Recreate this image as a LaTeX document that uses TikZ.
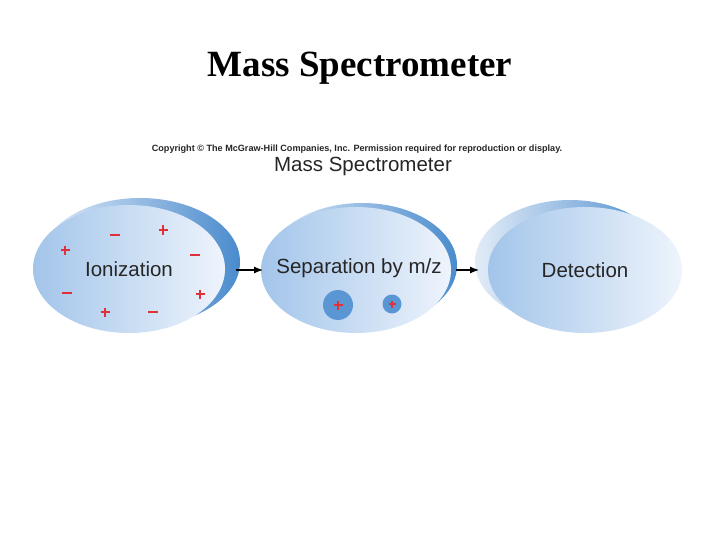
\documentclass[tikz,border=0pt]{standalone}
\usepackage{fontspec}
\setmainfont{Liberation Serif}
\setsansfont{Liberation Sans}
\usetikzlibrary{shapes.geometric,arrows.meta}
\definecolor{frontL}{HTML}{A3C5EA}
\definecolor{frontR}{HTML}{EEF4FC}
\definecolor{backL}{HTML}{E2ECF8}
\definecolor{backR}{HTML}{4A8BCD}
\definecolor{ionblue}{HTML}{5A96D3}
\definecolor{signred}{HTML}{E0303A}
\definecolor{txt}{HTML}{262626}
\tikzset{
  front/.style={ellipse, inner sep=0pt, left color=frontL, right color=frontR, draw=none,
    font=\sffamily\fontsize{20.5}{24}\selectfont, text=txt},
  back/.style={ellipse, inner sep=0pt, left color=backL, right color=backR, draw=none},
  flow/.style={-{Latex[length=9pt,width=7pt]}, line width=1.2pt, black},
  ion/.style={circle, inner sep=0pt, fill=ionblue},
  plus/.pic={\draw[signred, line width=1.8pt] (-4.5,0) -- (4.5,0) (0,-4.5) -- (0,4.5);},
  minus/.pic={\draw[signred, line width=1.8pt] (-5,0) -- (5,0);},
  smallplus/.pic={\draw[signred, line width=1.5pt] (-3.5,0) -- (3.5,0) (0,-3.5) -- (0,3.5);}
}
\begin{document}
\begin{tikzpicture}[x=1pt, y=-1pt]
\useasboundingbox (0,0) rectangle (720,540);
\fill[white] (0,0) rectangle (720,540);

\node[font=\bfseries\fontsize{37}{44}\selectfont] (title) at (360,68) {Mass Spectrometer};
\node[font=\sffamily\bfseries\fontsize{9.1}{10}\selectfont, text=txt] (copy) at (357,149)
  {Copyright © The McGraw-Hill Companies, Inc. Permission required for reproduction or display.};
\node[font=\sffamily\fontsize{20.5}{24}\selectfont, text=txt] (sub) at (363,166) {Mass Spectrometer};

% Ionization
\node[back, minimum width=200pt, minimum height=128pt] (ionback) at (140,262) {};
\node[front, minimum width=192pt, minimum height=128pt] (ioniz) at (129,269) {Ionization};
% Separation
\node[back, minimum width=190pt, minimum height=124pt] (sepback) at (362,265) {};
\node[front, minimum width=190pt, minimum height=126pt] (sep) at (356,270) {};
\node[font=\sffamily\fontsize{20.5}{24}\selectfont, text=txt] (septext) at (359,268) {Separation by m/z};
% Detection
\node[back, minimum width=190pt, minimum height=124pt] (detback) at (570,262) {};
\node[front, minimum width=194pt, minimum height=126pt] (det) at (585,270) {Detection};

% ions in ionization chamber
\pic at (65,250) {plus};
\pic at (115,235) {minus};
\pic at (163,230) {plus};
\pic at (195,255) {minus};
\pic at (67,293) {minus};
\pic at (200,294) {plus};
\pic at (105,312) {plus};
\pic at (153,312) {minus};

% separated ions
\node[ion, minimum size=30pt] (ionA) at (338,305) {};
\node[ion, minimum size=19pt] (ionB) at (392,304) {};
\pic at (ionA) {plus};
\pic at (ionB) {smallplus};

% arrows
\coordinate (a1s) at (236,270);
\coordinate (a1e) at (263,270);
\coordinate (a2s) at (456,270);
\coordinate (a2e) at (479,270);
\draw[flow] (a1s) -- (a1e);
\draw[flow] (a2s) -- (a2e);
\end{tikzpicture}
\end{document}
